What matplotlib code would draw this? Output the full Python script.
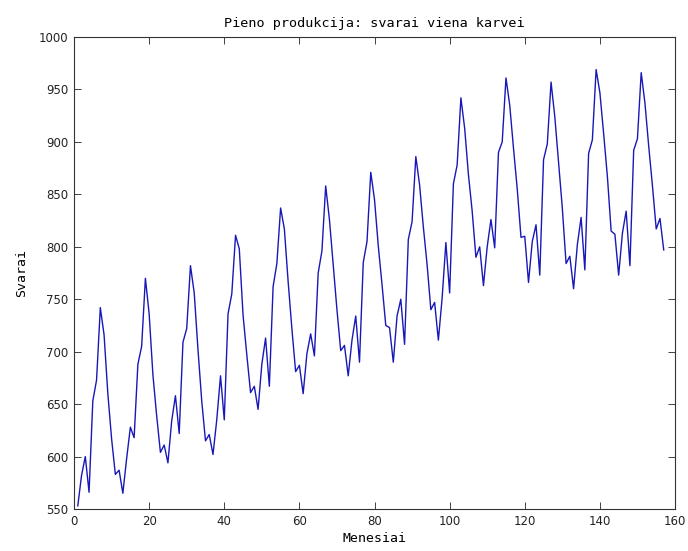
import matplotlib
matplotlib.use('Agg')
import matplotlib.pyplot as plt

# monthly milk production (pounds per cow), Nov 1962 .. Nov 1975
months = list(range(1, 158))
pounds = [553, 582,
          600, 566, 653, 673, 742, 716, 660, 617, 583, 587, 565, 598,
          628, 618, 688, 705, 770, 736, 678, 639, 604, 611, 594, 634,
          658, 622, 709, 722, 782, 756, 702, 653, 615, 621, 602, 635,
          677, 635, 736, 755, 811, 798, 735, 697, 661, 667, 645, 688,
          713, 667, 762, 784, 837, 817, 767, 722, 681, 687, 660, 698,
          717, 696, 775, 796, 858, 826, 783, 740, 701, 706, 677, 711,
          734, 690, 785, 805, 871, 845, 801, 764, 725, 723, 690, 734,
          750, 707, 807, 824, 886, 859, 819, 783, 740, 747, 711, 751,
          804, 756, 860, 878, 942, 913, 869, 834, 790, 800, 763, 800,
          826, 799, 890, 900, 961, 935, 894, 855, 809, 810, 766, 805,
          821, 773, 883, 898, 957, 924, 881, 837, 784, 791, 760, 802,
          828, 778, 889, 902, 969, 947, 908, 867, 815, 812, 773, 813,
          834, 782, 892, 903, 966, 937, 896, 858, 817, 827, 797]

xticks = list(range(0, 161, 20))
yticks = list(range(550, 1001, 50))

fig = plt.figure(figsize=(6.88, 5.51), dpi=100)
ax = fig.add_axes([0.1076, 0.0762, 0.8735, 0.8566])
ax.plot(months, pounds, color='#1818b8', linewidth=1.0)

ax.set_xlim(0, 160)
ax.set_ylim(550, 1000)
ax.set_xticks(xticks)
ax.set_yticks(yticks)
ax.tick_params(direction='in', top=True, right=True, length=5, width=0.6,
               labelsize=8.5, pad=4, colors='#222222')
for s in ax.spines.values():
    s.set_linewidth(0.8)
    s.set_color('#333333')

ax.set_title('Pieno produkcija: svarai viena karvei', fontsize=9.7,
             family='DejaVu Sans Mono', pad=7)
ax.set_xlabel('Menesiai', fontsize=9.5, family='DejaVu Sans Mono', labelpad=3)
ax.set_ylabel('Svarai', fontsize=9.5, family='DejaVu Sans Mono', labelpad=8)

fig.savefig('out.png', dpi=100)
